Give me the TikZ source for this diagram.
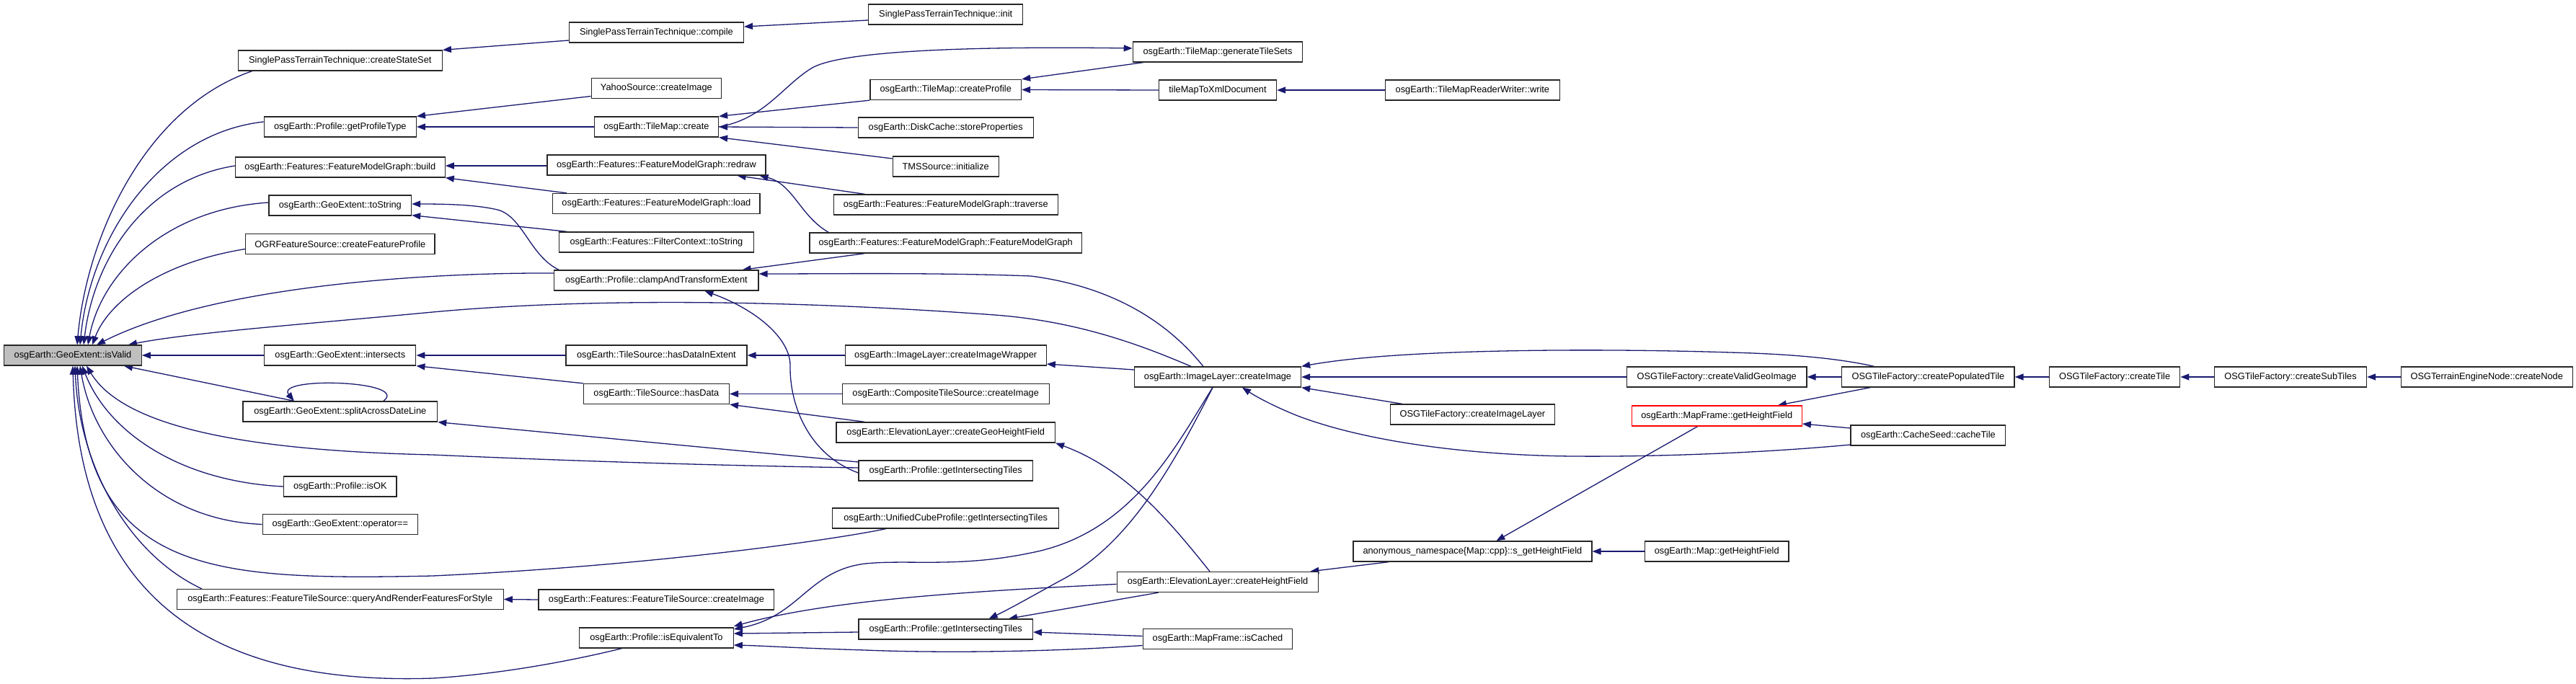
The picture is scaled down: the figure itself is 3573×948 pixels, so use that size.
\documentclass[tikz,border=0pt]{standalone}
\usepackage{fontspec}
\setmainfont{Liberation Sans}
\usetikzlibrary{arrows.meta,calc}
\definecolor{edgecol}{HTML}{191970}
\definecolor{grayfill}{HTML}{BFBFBF}
\pgfdeclarelayer{bg}
\pgfsetlayers{bg,main}
\begin{document}
\begin{tikzpicture}[x=1pt,y=-1pt,
  box/.style={draw=black!85, line width=1.3pt, fill=white, inner xsep=4pt, inner ysep=0pt, minimum height=28pt, font=\fontsize{12.8}{15}\selectfont},
  edge/.style={draw=edgecol, line width=1.3pt, -{Triangle[length=12pt,width=9pt]}}]
\useasboundingbox (0,0) rectangle (3573,948);
% column 0
\node[box,fill=grayfill,minimum width=190.6pt] (isValid) at (101,493) {osgEarth::GeoExtent::isValid};
% column 1
\node[box,minimum width=283pt] (cSS) at (471.8,84) {SinglePassTerrainTechnique::createStateSet};
\node[box,minimum width=211pt] (gPT) at (471.8,176) {osgEarth::Profile::getProfileType};
\node[box,minimum width=290.8pt] (build) at (471.8,232) {osgEarth::Features::FeatureModelGraph::build};
\node[box,minimum width=197.5pt] (geToStr) at (471.8,285) {osgEarth::GeoExtent::toString};
\node[box,minimum width=262.4pt] (ogr) at (471.8,338.5) {OGRFeatureSource::createFeatureProfile};
\node[box,minimum width=210pt] (intersects) at (471.8,493) {osgEarth::GeoExtent::intersects};
\node[box,minimum width=269.7pt] (split) at (471.8,571) {osgEarth::GeoExtent::splitAcrossDateLine};
\node[box,minimum width=156.5pt] (isOK) at (471.8,675) {osgEarth::Profile::isOK};
\node[box,minimum width=215pt] (opEq) at (471.8,727.5) {osgEarth::GeoExtent::operator==};
\node[box,minimum width=452.7pt] (qarf) at (471.8,831.5) {osgEarth::Features::FeatureTileSource::queryAndRenderFeaturesForStyle};
% column 2
\node[box,minimum width=242pt] (compile) at (910.4,45) {SinglePassTerrainTechnique::compile};
\node[box,minimum width=180.3pt] (yahoo) at (910.4,122.5) {YahooSource::createImage};
\node[box,minimum width=172.2pt] (tmCreate) at (910.4,176) {osgEarth::TileMap::create};
\node[box,minimum width=303pt] (redraw) at (910.4,229) {osgEarth::Features::FeatureModelGraph::redraw};
\node[box,minimum width=287.4pt] (load) at (910.4,282.5) {osgEarth::Features::FeatureModelGraph::load};
\node[box,minimum width=270.2pt] (fcToStr) at (910.4,336) {osgEarth::Features::FilterContext::toString};
\node[box,minimum width=283.2pt] (clamp) at (910.4,389) {osgEarth::Profile::clampAndTransformExtent};
\node[box,minimum width=251pt] (hdie) at (910.4,493) {osgEarth::TileSource::hasDataInExtent};
\node[box,minimum width=202pt] (hasData) at (910.4,546.5) {osgEarth::TileSource::hasData};
\node[box,minimum width=326.8pt] (ftsCreate) at (910.4,832) {osgEarth::Features::FeatureTileSource::createImage};
\node[box,minimum width=213.5pt] (isEq) at (910.4,885) {osgEarth::Profile::isEquivalentTo};
% column 3
\node[box,minimum width=214pt] (init) at (1311.7,20) {SinglePassTerrainTechnique::init};
\node[box,minimum width=209.7pt] (createProfile) at (1311.7,124.5) {osgEarth::TileMap::createProfile};
\node[box,minimum width=243pt] (storeProps) at (1311.7,177) {osgEarth::DiskCache::storeProperties};
\node[box,minimum width=147pt] (tms) at (1311.7,231) {TMSSource::initialize};
\node[box,minimum width=311pt] (traverse) at (1311.7,284) {osgEarth::Features::FeatureModelGraph::traverse};
\node[box,minimum width=377.6pt] (fmgCtor) at (1311.7,337) {osgEarth::Features::FeatureModelGraph::FeatureModelGraph};
\node[box,minimum width=279pt] (ciw) at (1311.7,493) {osgEarth::ImageLayer::createImageWrapper};
\node[box,minimum width=287pt] (composite) at (1311.7,546.5) {osgEarth::CompositeTileSource::createImage};
\node[box,minimum width=303.4pt] (geoHF) at (1311.7,600) {osgEarth::ElevationLayer::createGeoHeightField};
\node[box,minimum width=241.4pt] (git1) at (1311.7,653) {osgEarth::Profile::getIntersectingTiles};
\node[box,minimum width=313.8pt] (ucp) at (1311.7,719) {osgEarth::UnifiedCubeProfile::getIntersectingTiles};
\node[box,minimum width=241.4pt] (git2) at (1311.7,873) {osgEarth::Profile::getIntersectingTiles};
% column 4
\node[box,minimum width=235.3pt] (genTS) at (1689,72) {osgEarth::TileMap::generateTileSets};
\node[box,minimum width=163pt] (tmXml) at (1689,125) {tileMapToXmlDocument};
\node[box,minimum width=231pt] (ilCreate) at (1689,523) {osgEarth::ImageLayer::createImage};
\node[box,minimum width=279.3pt] (elevHF) at (1689,807.5) {osgEarth::ElevationLayer::createHeightField};
\node[box,minimum width=207.4pt] (isCached) at (1689,886.5) {osgEarth::MapFrame::isCached};
% column 5
\node[box,minimum width=242pt] (tmrw) at (2042.4,125) {osgEarth::TileMapReaderWriter::write};
\node[box,minimum width=228pt] (cil) at (2042.4,575) {OSGTileFactory::createImageLayer};
\node[box,minimum width=331pt] (sGetHF) at (2042.4,765) {anonymous\_namespace\{Map::cpp\}::s\_getHeightField};
% column 6
\node[box,minimum width=249.4pt] (cvgi) at (2381.2,523) {OSGTileFactory::createValidGeoImage};
\node[box,draw=red,minimum width=236pt] (mfGetHF) at (2381.2,577) {osgEarth::MapFrame::getHeightField};
\node[box,minimum width=199.4pt] (mapGetHF) at (2381.2,765) {osgEarth::Map::getHeightField};
% column 7+
\node[box,minimum width=239.2pt] (cpt) at (2674.4,523) {OSGTileFactory::createPopulatedTile};
\node[box,minimum width=214.7pt] (cacheTile) at (2674.4,604) {osgEarth::CacheSeed::cacheTile};
\node[box,minimum width=181.4pt] (createTile) at (2933.1,523) {OSGTileFactory::createTile};
\node[box,minimum width=211pt] (subTiles) at (3177,523) {OSGTileFactory::createSubTiles};
\node[box,minimum width=238pt] (createNode) at (3449.2,523) {OSGTerrainEngineNode::createNode};

\begin{pgfonlayer}{bg}
\fill[white] (0,0) rectangle (3573,948);
% callers of isValid (from above)
\draw[edge] ($(cSS.south west)+(20,0)$) .. controls (200,150) and (120,330) .. ($(isValid.north)+(6,0)$);
\draw[edge] ($(gPT.west)+(0,-7)$) .. controls (220,185) and (125,330) .. ($(isValid.north)+(10,0)$);
\draw[edge] ($(build.west)+(0,-2)$) .. controls (200,250) and (130,360) .. ($(isValid.north)+(15,0)$);
\draw[edge] ($(geToStr.west)+(0,-4)$) .. controls (230,290) and (140,380) .. ($(isValid.north)+(21,0)$);
\draw[edge] ($(ogr.west)+(0,7)$) .. controls (220,365) and (150,420) .. ($(isValid.north)+(27,0)$);
\draw[edge] ($(clamp.west)+(0,-10)$) .. controls (600,378) and (300,395) .. ($(isValid.north)+(33,0)$);
\draw[edge] ($(ilCreate.north)+(-37,0)$) .. controls (1590,482) and (1500,446) .. (1380,437) .. controls (1150,420) and (850,410) .. (600,433) .. controls (420,450) and (260,462) .. ($(isValid.north)+(77,0)$);
% callers of isValid (same row / below)
\draw[edge] (intersects.west) -- (isValid.east);
\draw[edge] ($(split.north)+(-64,0)$) -- ($(isValid.south)+(71,0)$);
\draw[edge] ($(git1.west)+(0,-4)$) .. controls (1000,646) and (800,640) .. (600,631) .. controls (330,625) and (170,590) .. ($(isValid.south)+(19,0)$);
\draw[edge] (isOK.west) .. controls (250,668) and (150,600) .. ($(isValid.south)+(13,0)$);
\draw[edge] (opEq.west) .. controls (220,722) and (130,620) .. ($(isValid.south)+(10,0)$);
\draw[edge] ($(ucp.south)+(-83,0)$) .. controls (1150,750) and (900,785) .. (600,799) .. controls (300,805) and (120,800) .. ($(isValid.south)+(6,0)$);
\draw[edge] ($(qarf.north)+(-192,0)$) .. controls (180,770) and (110,650) .. ($(isValid.south)+(3,0)$);
\draw[edge] ($(isEq.south)+(-48,0)$) .. controls (800,915) and (700,935) .. (600,941) .. controls (330,950) and (110,860) .. (isValid.south);
% column 1 callees
\draw[edge] (hdie.west) -- (intersects.east);
\draw[edge] (hasData.north west) -- (intersects.south east);
\draw[edge] ($(split.north)+(60,0)$) .. controls (570,528) and (380,522) .. ($(split.north)+(-64,0)$);
\draw[edge] ($(git1.west)+(0,-12)$) -- (split.south east);
\draw[edge] ($(clamp.north west)+(7,0)$) .. controls (735,355) and (725,300) .. (690,291) .. controls (660,284) and (620,283) .. ($(geToStr.east)+(0,-2)$);
\draw[edge] ($(fcToStr.north west)+(12,0)$) -- ($(geToStr.south east)+(0,-1)$);
\draw[edge] ($(redraw.west)+(0,1)$) -- ($(build.east)+(0,-2)$);
\draw[edge] ($(load.north west)+(20,0)$) -- (build.south east);
\draw[edge] ($(yahoo.west)+(0,11)$) -- (gPT.north east);
\draw[edge] (tmCreate.west) -- (gPT.east);
\draw[edge] ($(compile.west)+(0,11)$) -- (cSS.north east);
\draw[edge] (ftsCreate.west) -- (qarf.east);
% column 2 callees
\draw[edge] ($(init.west)+(0,8)$) -- ($(compile.east)+(0,-8)$);
\draw[edge] (createProfile.south west) -- (tmCreate.north east);
\draw[edge] (storeProps.west) -- (tmCreate.east);
\draw[edge] ($(tms.west)+(0,-11)$) -- (tmCreate.south east);
\draw[edge] (tmCreate.east) .. controls (1060,165) and (1085,120) .. (1125,95) .. controls (1165,70) and (1350,64) .. ($(genTS.west)+(0,-5)$);
\draw[edge] ($(traverse.north west)+(44,0)$) -- ($(redraw.south east)+(-40,0)$);
\draw[edge] ($(fmgCtor.north west)+(27,0)$) .. controls (1110,300) and (1100,255) .. ($(redraw.south east)+(-9,0)$);
\draw[edge] ($(fmgCtor.south west)+(77,0)$) -- ($(clamp.north east)+(-23,0)$);
\draw[edge] ($(ilCreate.north)+(-20,0)$) .. controls (1630,460) and (1560,400) .. (1430,383) .. controls (1300,378) and (1150,380) .. ($(clamp.east)+(0,-9)$);
\draw[edge] ($(git1.west)+(0,3)$) .. controls (1120,630) and (1095,560) .. (1096,507) .. controls (1096,470) and (1050,430) .. ($(clamp.south)+(67,0)$);
\draw[edge] (ciw.west) -- (hdie.east);
\draw[edge] (composite.west) -- (hasData.east);
\draw[edge] ($(geoHF.north west)+(40,0)$) -- (hasData.south east);
\draw[edge] ($(git2.west)+(0,4)$) -- ($(isEq.east)+(0,-6)$);
\draw[edge] ($(ilCreate.south)+(-7,0)$) .. controls (1630,620) and (1570,740) .. (1430,767) .. controls (1330,788) and (1260,776) .. (1200,782) .. controls (1120,792) and (1110,855) .. ($(isEq.east)+(0,-12)$);
\draw[edge] ($(elevHF.west)+(0,3)$) .. controls (1350,820) and (1150,832) .. ($(isEq.east)+(0,-16)$);
\draw[edge] ($(isCached.west)+(0,9)$) .. controls (1450,905) and (1300,906) .. (1200,902) .. controls (1100,899) and (1060,896) .. ($(isEq.east)+(0,10)$);
% column 3 callees
\draw[edge] ($(genTS.south west)+(15,0)$) -- (createProfile.north east);
\draw[edge] (tmXml.west) -- (createProfile.east);
\draw[edge] ($(ilCreate.west)+(0,-10)$) -- ($(ciw.east)+(0,12)$);
\draw[edge] ($(elevHF.north)+(-11,0)$) .. controls (1620,720) and (1560,650) .. (geoHF.south east);
\draw[edge] ($(ilCreate.south)+(-7,0)$) .. controls (1620,660) and (1560,760) .. (1468,807) .. controls (1430,828) and (1400,845) .. ($(git2.north)+(60,0)$);
\draw[edge] ($(elevHF.south west)+(58,0)$) -- ($(git2.north east)+(-34,0)$);
\draw[edge] ($(isCached.west)+(0,-4)$) -- ($(git2.east)+(0,4)$);
% column 4 callees
\draw[edge] (tmrw.west) -- (tmXml.east);
\draw[edge] (cvgi.west) -- (ilCreate.east);
\draw[edge] ($(cil.north west)+(17,0)$) -- (ilCreate.south east);
\draw[edge] ($(cpt.north)+(-75,0)$) .. controls (2550,497) and (2480,491) .. (2400,489) .. controls (2250,484) and (1950,482) .. (ilCreate.north east);
\draw[edge] ($(cacheTile.west)+(0,13)$) .. controls (2450,628) and (2300,634) .. (2183,633) .. controls (2050,632) and (1900,615) .. (1800,577) .. controls (1770,565) and (1745,552) .. ($(ilCreate.south)+(34,0)$);
\draw[edge] ($(sGetHF.south west)+(50,0)$) -- ($(elevHF.north east)+(-12,0)$);
% column 5+ callees
\draw[edge] ($(mfGetHF.south west)+(92,0)$) -- ($(sGetHF.north)+(33,0)$);
\draw[edge] (mapGetHF.west) -- (sGetHF.east);
\draw[edge] ($(cpt.south west)+(40,0)$) -- ($(mfGetHF.north east)+(-34,0)$);
\draw[edge] ($(cacheTile.west)+(0,-10)$) -- ($(mfGetHF.east)+(0,11)$);
\draw[edge] (cpt.west) -- (cvgi.east);
\draw[edge] (createTile.west) -- (cpt.east);
\draw[edge] (subTiles.west) -- (createTile.east);
\draw[edge] (createNode.west) -- (subTiles.east);
\end{pgfonlayer}
\end{tikzpicture}
\end{document}
